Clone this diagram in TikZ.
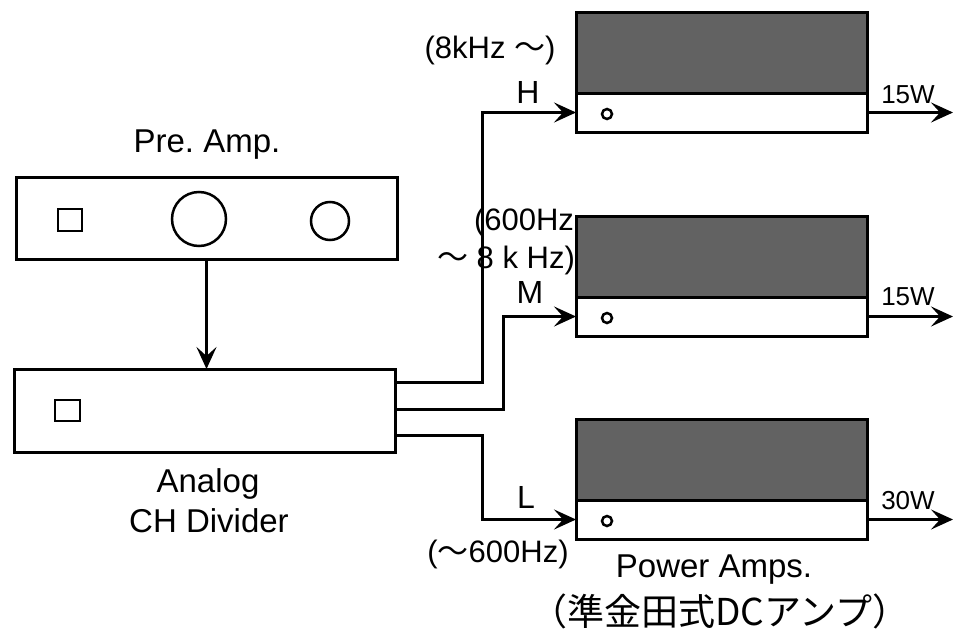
\documentclass[tikz,border=0pt]{standalone}
\usepackage{fontspec}
\setmainfont{Liberation Sans}
\newfontfamily\cjk{Noto Sans CJK JP}
\usetikzlibrary{arrows.meta}
\definecolor{darkpanel}{RGB}{98,98,98}
\frenchspacing
\tikzset{
  box/.style={draw, line width=3pt, inner sep=0pt, outer sep=0pt},
  panel/.style={box, fill=darkpanel, minimum width=291pt, minimum height=81pt},
  front/.style={box, fill=white, minimum width=291pt, minimum height=39pt},
  knob/.style={draw, circle, line width=2.5pt, minimum size=10pt, inner sep=0pt},
  dial/.style={draw, circle, line width=2.5pt, inner sep=0pt},
  keybox/.style={draw, line width=2.5pt, inner sep=0pt},
  wire/.style={line width=3pt, -{Stealth[length=22pt,width=20pt,inset=9pt]}},
  lab/.style={inner sep=0pt, anchor=base, font=\fontsize{32}{38}\selectfont},
  big/.style={inner sep=0pt, anchor=base, font=\fontsize{33}{40}\selectfont},
  freq/.style={inner sep=0pt, anchor=base, font=\fontsize{31}{37}\selectfont},
  watt/.style={inner sep=0pt, anchor=base, font=\fontsize{26}{31}\selectfont},
}
\begin{document}
\begin{tikzpicture}[x=1pt,y=-1pt]
\useasboundingbox (0,0) rectangle (953,632);
% pre amp
\node[box, minimum width=381pt, minimum height=82pt] (pre) at (206.5,218) {};
\node[keybox, minimum width=24pt, minimum height=22pt] (psq) at (70,220) {};
\node[dial, minimum size=54pt] (pk1) at (199,219) {};
\node[dial, minimum size=38pt] (pk2) at (330,221) {};
\node[big] (tpre) at (207,152) {Pre. Amp.};
% divider
\node[box, minimum width=381pt, minimum height=83pt] (div) at (204.5,410.5) {};
\node[keybox, minimum width=25pt, minimum height=21pt] (dsq) at (67.5,410.5) {};
\node[big] (tan) at (208,492) {Analog};
\node[big] (tch) at (209,532) {CH Divider};
\draw[wire] (pre.south) -- (pre.south |- div.north);
% power amps
\node[panel] (hP) at (721.5,52.5) {};
\node[front] (hF) at (721.5,112.5) {};
\node[panel] (mP) at (721.5,256.5) {};
\node[front] (mF) at (721.5,316.5) {};
\node[panel] (lP) at (721.5,459.5) {};
\node[front] (lF) at (721.5,519.5) {};
\node[knob] (hk) at ([xshift=31pt,yshift=-1.5pt]hF.west) {};
\node[knob] (mk) at ([xshift=31pt,yshift=-1.5pt]mF.west) {};
\node[knob] (lk) at ([xshift=31pt,yshift=-1.5pt]lF.west) {};
\node[big] (tpa) at (714,577) {Power Amps.};
\node[inner sep=0pt, anchor=base, font=\cjk\fontsize{37}{44}\selectfont] (tjp) at (720,625) {（準金田式DCアンプ）};
% connectors
\coordinate (hx) at (482,0);
\coordinate (mx) at (503,0);
\coordinate (rgt) at (953,0);
\draw[wire] ([yshift=-13pt]div.north east) -| (hx |- hF.west) -- (hF.west);
\draw[wire] ([yshift=-40pt]div.north east) -| (mx |- mF.west) -- (mF.west);
\draw[wire] ([yshift=-66pt]div.north east) -| (hx |- lF.west) -- (lF.west);
\draw[wire] (hF.east) -- (hF.east -| rgt);
\draw[wire] (mF.east) -- (mF.east -| rgt);
\draw[wire] (lF.east) -- (lF.east -| rgt);
% labels
\node[lab] (th) at (528,103) {H};
\node[lab] (tm) at (530,303) {M};
\node[lab] (tl) at (526,508) {L};
\node[freq] (fh) at (490,58) {(8kHz {\cjk ～})};
\node[freq] (fm1) at (524,230) {(600Hz};
\node[freq] (fm2) at (506,268) {{\cjk ～} 8 k Hz)};
\node[freq] (fl) at (498,562) {({\cjk ～}600Hz)};
\node[watt] (w1) at (908,103) {15W};
\node[watt] (w2) at (908,305) {15W};
\node[watt] (w3) at (908,509) {30W};
\end{tikzpicture}
\end{document}
